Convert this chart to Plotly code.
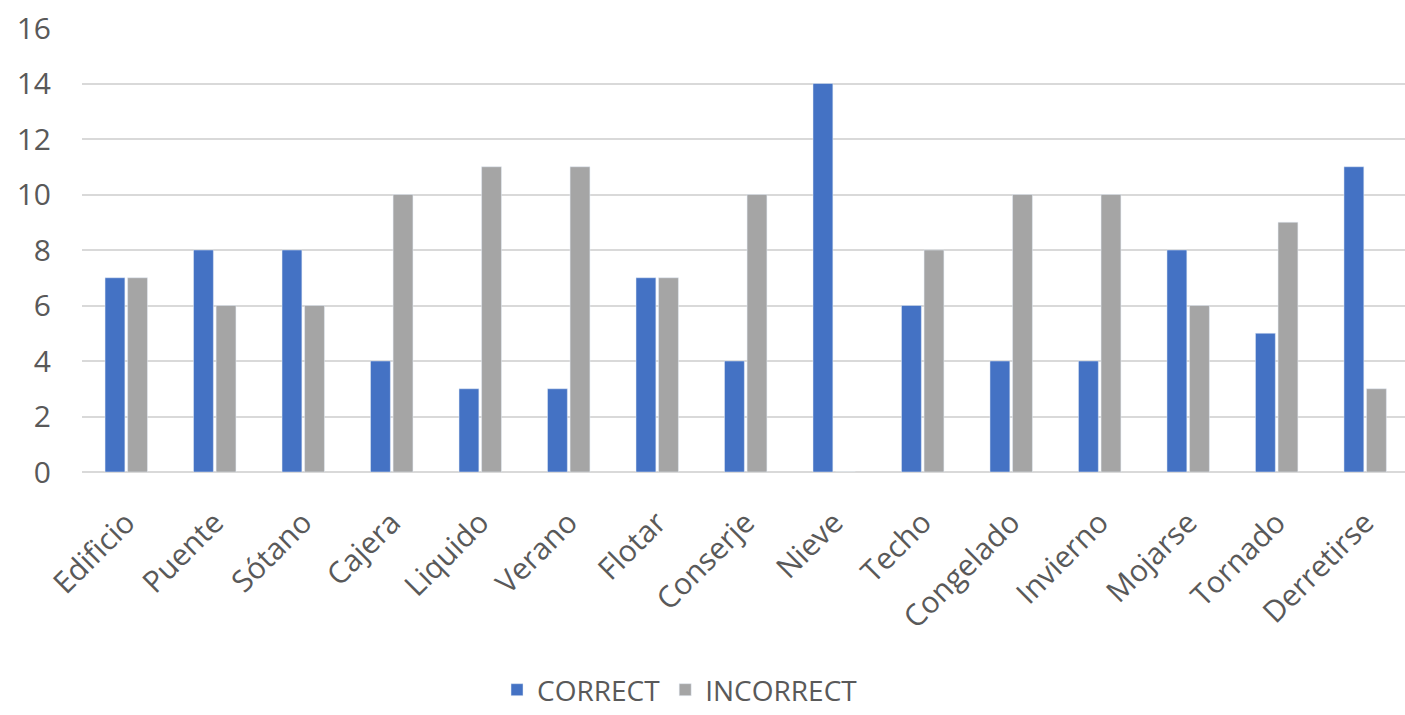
import plotly.graph_objects as go

categories = ["Edificio", "Puente", "Sótano", "Cajera", "Liquido", "Verano", "Flotar",
              "Conserje", "Nieve", "Techo", "Congelado", "Invierno", "Mojarse", "Tornado", "Derretirse"]
correct = [7, 8, 8, 4, 3, 3, 7, 4, 14, 6, 4, 4, 8, 5, 11]
incorrect = [7, 6, 6, 10, 11, 11, 7, 10, 0, 8, 10, 10, 6, 9, 3]
y_ticks = [0, 2, 4, 6, 8, 10, 12, 14, 16]

FONT = "Open Sans"
TXT = "#595959"

fig = go.Figure()
fig.add_trace(go.Bar(x=categories, y=correct, name="CORRECT", marker_color="#4472C4"))
fig.add_trace(go.Bar(x=categories, y=incorrect, name="INCORRECT", marker_color="#A5A5A5"))

fig.update_layout(
    width=1405, height=715,
    margin=dict(l=82, r=0, t=28, b=243),
    paper_bgcolor="white", plot_bgcolor="white",
    barmode="group", bargap=0.49, bargroupgap=0.12,
    font=dict(family=FONT, size=30, color=TXT),
    legend=dict(orientation="h", xref="container", yref="container",
                x=0.484, xanchor="center", y=0.0, yanchor="bottom",
                font=dict(size=28, color=TXT), itemwidth=30, tracegroupgap=0),
    showlegend=True,
)
fig.update_xaxes(range=[-0.5, 14.45], tickangle=-45, showgrid=False, showline=False,
                 ticks="", ticklabelstandoff=26, tickfont=dict(size=30, color=TXT))
fig.update_yaxes(range=[0, 16], tickvals=y_ticks, showgrid=True, gridcolor="#D9D9D9",
                 gridwidth=2, zeroline=True, zerolinecolor="#D9D9D9", zerolinewidth=2,
                 showline=False, ticks="", ticklabelstandoff=30,
                 tickfont=dict(size=30, color=TXT))

fig.write_html("out.html")
